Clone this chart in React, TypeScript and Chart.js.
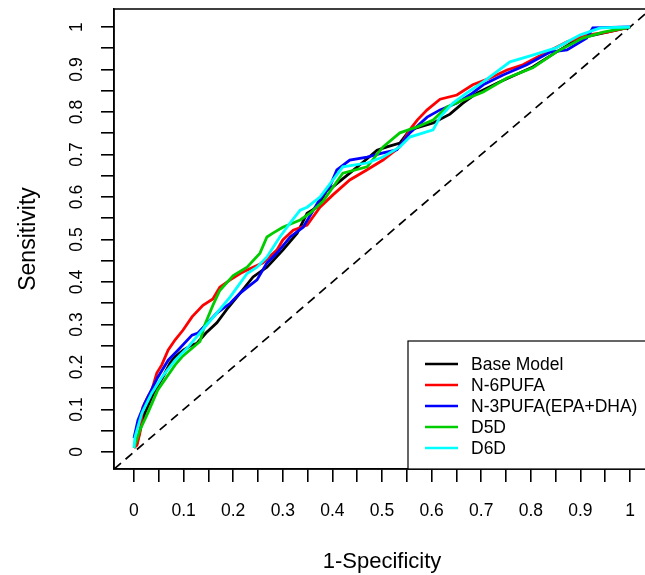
import React, { useEffect, useRef } from 'react';
import { Chart, registerables } from 'chart.js';

Chart.register(...registerables);

const seriesLabels = ['Base Model', 'N-6PUFA', 'N-3PUFA(EPA+DHA)', 'D5D', 'D6D'];
const seriesColors = ['#000000', '#FF0000', '#0000FF', '#00CD00', '#00FFFF'];

const baseX = [0, 0.006, 0.012, 0.022, 0.04, 0.06, 0.073, 0.083, 0.1, 0.117, 0.127, 0.145, 0.167, 0.19, 0.214, 0.24, 0.268, 0.3, 0.329, 0.349, 0.369, 0.389, 0.401, 0.435, 0.47, 0.49, 0.51, 0.536, 0.556, 0.603, 0.637, 0.663, 0.692, 0.738, 0.804, 0.851, 0.899, 0.954, 1];
const baseY = [0.01, 0.02, 0.05, 0.092, 0.14, 0.18, 0.21, 0.224, 0.24, 0.252, 0.256, 0.28, 0.304, 0.34, 0.374, 0.412, 0.435, 0.475, 0.515, 0.562, 0.576, 0.616, 0.624, 0.656, 0.69, 0.71, 0.718, 0.727, 0.758, 0.774, 0.795, 0.821, 0.845, 0.871, 0.906, 0.941, 0.974, 0.988, 1];

const n6X = [0, 0.006, 0.012, 0.018, 0.028, 0.036, 0.046, 0.056, 0.069, 0.083, 0.099, 0.117, 0.139, 0.159, 0.173, 0.194, 0.214, 0.228, 0.26, 0.288, 0.3, 0.321, 0.349, 0.375, 0.401, 0.435, 0.47, 0.502, 0.536, 0.556, 0.571, 0.591, 0.617, 0.651, 0.683, 0.718, 0.752, 0.784, 0.833, 0.873, 0.913, 0.954, 1];
const n6Y = [0.01, 0.016, 0.045, 0.106, 0.13, 0.146, 0.186, 0.205, 0.24, 0.264, 0.287, 0.318, 0.345, 0.36, 0.388, 0.405, 0.42, 0.428, 0.445, 0.475, 0.499, 0.522, 0.534, 0.576, 0.605, 0.64, 0.664, 0.687, 0.718, 0.758, 0.781, 0.805, 0.83, 0.84, 0.864, 0.88, 0.899, 0.911, 0.941, 0.965, 0.981, 0.988, 1];

const n3X = [0, 0.008, 0.022, 0.048, 0.069, 0.089, 0.117, 0.129, 0.167, 0.194, 0.214, 0.248, 0.268, 0.288, 0.315, 0.341, 0.375, 0.395, 0.409, 0.435, 0.47, 0.502, 0.53, 0.556, 0.591, 0.617, 0.651, 0.683, 0.704, 0.744, 0.792, 0.839, 0.873, 0.913, 0.925, 1];
const n3Y = [0.033, 0.075, 0.115, 0.176, 0.216, 0.24, 0.275, 0.28, 0.327, 0.35, 0.374, 0.405, 0.445, 0.468, 0.506, 0.529, 0.595, 0.625, 0.664, 0.687, 0.694, 0.704, 0.711, 0.751, 0.788, 0.805, 0.821, 0.845, 0.864, 0.887, 0.911, 0.941, 0.946, 0.974, 0.998, 1];

const d5dX = [0, 0.012, 0.028, 0.048, 0.083, 0.097, 0.133, 0.143, 0.159, 0.173, 0.2, 0.228, 0.254, 0.268, 0.28, 0.3, 0.335, 0.355, 0.381, 0.421, 0.47, 0.502, 0.536, 0.571, 0.603, 0.631, 0.663, 0.704, 0.752, 0.804, 0.851, 0.905, 0.946, 1];
const d5dY = [0.01, 0.052, 0.092, 0.146, 0.205, 0.224, 0.26, 0.3, 0.345, 0.38, 0.415, 0.435, 0.468, 0.506, 0.515, 0.529, 0.546, 0.562, 0.59, 0.656, 0.671, 0.718, 0.751, 0.765, 0.781, 0.812, 0.828, 0.847, 0.88, 0.904, 0.941, 0.974, 0.988, 1];

const d6dX = [0, 0.002, 0.016, 0.036, 0.056, 0.083, 0.109, 0.14, 0.167, 0.194, 0.228, 0.248, 0.268, 0.294, 0.315, 0.335, 0.349, 0.375, 0.421, 0.47, 0.502, 0.536, 0.556, 0.603, 0.617, 0.643, 0.671, 0.704, 0.758, 0.804, 0.851, 0.899, 0.94, 1];
const d6dY = [0.01, 0.035, 0.092, 0.139, 0.176, 0.216, 0.247, 0.29, 0.327, 0.365, 0.42, 0.435, 0.459, 0.506, 0.539, 0.569, 0.576, 0.6, 0.671, 0.68, 0.694, 0.718, 0.741, 0.758, 0.788, 0.821, 0.845, 0.871, 0.918, 0.934, 0.951, 0.981, 0.998, 1];

const seriesX = [baseX, n6X, n3X, d5dX, d6dX];
const seriesY = [baseY, n6Y, n3Y, d5dY, d6dY];

const refLineX = [-0.04, 1.04];
const refLineY = [-0.04, 1.04];

const tickValues = [0, 0.05, 0.1, 0.15, 0.2, 0.25, 0.3, 0.35, 0.4, 0.45, 0.5, 0.55, 0.6, 0.65, 0.7, 0.75, 0.8, 0.85, 0.9, 0.95, 1];
const tickLabels = ['0', '0.1', '0.2', '0.3', '0.4', '0.5', '0.6', '0.7', '0.8', '0.9', '1'];

const FONT = '"Liberation Sans", Arial, sans-serif';

function labelFor(value: number): string {
  const i = Math.round(value * 20);
  return i % 2 === 0 ? tickLabels[i / 2] : '';
}

const frameAndLegend = {
  id: 'frameAndLegend',
  afterDraw(chart: any) {
    const { ctx, chartArea } = chart;
    ctx.save();
    ctx.strokeStyle = '#000';
    ctx.lineWidth = 1.5;
    ctx.strokeRect(chartArea.left, chartArea.top, chartArea.right - chartArea.left, chartArea.bottom - chartArea.top);

    // legend
    const bx = 408;
    const by = 341;
    ctx.fillStyle = '#fff';
    ctx.fillRect(bx, by, chart.width - bx + 5, chartArea.bottom - by);
    ctx.lineWidth = 1.2;
    ctx.strokeRect(bx, by, chart.width - bx + 5, chartArea.bottom - by);
    ctx.font = `17.5px ${FONT}`;
    ctx.textBaseline = 'middle';
    ctx.textAlign = 'left';
    const ds = chart.data.datasets.filter((d: any) => !d.isRef);
    ds.forEach((d: any, i: number) => {
      const yy = 364 + i * 21;
      ctx.strokeStyle = d.borderColor;
      ctx.lineWidth = 2.5;
      ctx.beginPath();
      ctx.moveTo(425, yy);
      ctx.lineTo(458, yy);
      ctx.stroke();
      ctx.fillStyle = '#000';
      ctx.fillText(d.label, 471, yy + 1);
    });
    ctx.restore();
  },
};

export default function App() {
  const ref = useRef<HTMLCanvasElement | null>(null);
  useEffect(() => {
    if (!ref.current) return;
    Chart.defaults.font.family = FONT;
    const datasets: any[] = seriesLabels.map((label, s) => ({
      label,
      data: seriesX[s].map((x, i) => ({ x, y: seriesY[s][i] })),
      borderColor: seriesColors[s],
      backgroundColor: seriesColors[s],
      borderWidth: 2.8,
      pointRadius: 0,
      tension: 0,
      fill: false,
      order: seriesLabels.length - s,
    }));
    datasets.push({
      label: 'ref',
      isRef: true,
      data: refLineX.map((x, i) => ({ x, y: refLineY[i] })),
      borderColor: '#000',
      borderWidth: 1.7,
      borderDash: [9, 6],
      pointRadius: 0,
      fill: false,
      order: 10,
    });
    const chart = new Chart(ref.current, {
      type: 'line',
      data: { datasets },
      options: {
        responsive: false,
        animation: false,
        devicePixelRatio: 1,
        layout: { padding: { left: 0, top: 9, right: 10, bottom: 0 } },
        plugins: { legend: { display: false }, tooltip: { enabled: false } },
        scales: {
          x: {
            type: 'linear',
            min: -0.0403,
            max: 1.0403,
            afterBuildTicks: (scale: any) => {
              scale.ticks = tickValues.map((v) => ({ value: v }));
            },
            afterFit: (scale: any) => {
              scale.height = 106;
              scale.paddingLeft = 0;
              scale.paddingRight = 0;
            },
            grid: { drawOnChartArea: false, drawTicks: true, tickLength: 13, color: '#000', lineWidth: 1.6 },
            border: { display: true, color: '#000', width: 1.5 },
            ticks: {
              autoSkip: false,
              maxRotation: 0,
              minRotation: 0,
              padding: 19,
              color: '#000',
              font: { size: 17.5 },
              callback: (v: any) => labelFor(Number(v)),
            },
            title: { display: true, text: '1-Specificity', color: '#000', font: { size: 22 }, padding: { top: 0, bottom: 0 } },
          },
          y: {
            type: 'linear',
            min: -0.04,
            max: 1.0424,
            afterBuildTicks: (scale: any) => {
              scale.ticks = tickValues.map((v) => ({ value: v }));
            },
            afterFit: (scale: any) => {
              scale.width = 114;
              scale.paddingTop = 0;
              scale.paddingBottom = 0;
            },
            grid: { drawOnChartArea: false, drawTicks: true, tickLength: 13, color: '#000', lineWidth: 1.6 },
            border: { display: true, color: '#000', width: 1.5 },
            ticks: {
              autoSkip: false,
              minRotation: 90,
              maxRotation: 90,
              crossAlign: 'center',
              padding: 12,
              color: '#000',
              font: { size: 17.5 },
              callback: (v: any) => labelFor(Number(v)),
            },
            title: { display: true, text: 'Sensitivity', color: '#000', font: { size: 23 }, padding: { top: 15, bottom: 0 } },
          },
        },
      },
      plugins: [frameAndLegend],
    } as any);
    return () => chart.destroy();
  }, []);
  return (
    <div style={{ position: 'absolute', left: 0, top: 0, width: 660, height: 575, overflow: 'hidden' }}>
      <canvas ref={ref} width={660} height={575} style={{ display: 'block' }} />
    </div>
  );
}
